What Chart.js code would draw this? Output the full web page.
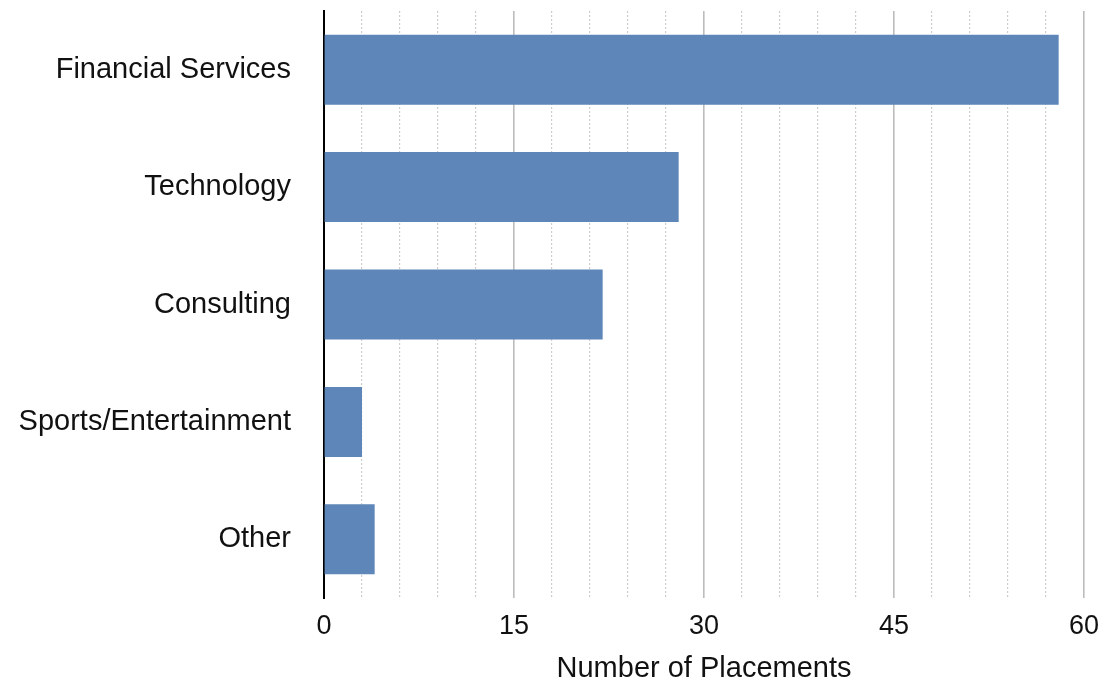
<!DOCTYPE html>
<html>
<head>
<meta charset="utf-8">
<script src="https://cdn.jsdelivr.net/npm/chart.js@4.4.0/dist/chart.umd.min.js"></script>
<style>
  html, body { margin: 0; padding: 0; background: #fff; }
  #wrap { width: 1106px; height: 688px; }
</style>
</head>
<body>
<div id="wrap"><canvas id="chart" width="1106" height="688"></canvas></div>
<script>
const categories = ['Financial Services', 'Technology', 'Consulting', 'Sports/Entertainment', 'Other'];
const placements = [58, 28, 22, 3, 4];
const xMin = 0;
const xMax = 60;
const majorStep = 15;
const minorStep = 3;

const font = "'Liberation Sans', Arial, Helvetica, sans-serif";

const ctx = document.getElementById('chart');

const chart = new Chart(ctx, {
    type: 'bar',
    data: {
        labels: categories,
        datasets: [{
            label: 'Number of Placements',
            data: placements,
            backgroundColor: 'rgb(94, 134, 185)',
            borderWidth: 0,
            barPercentage: 0.596,
            categoryPercentage: 1.0
        }]
    },
    options: {
        indexAxis: 'y',
        responsive: false,
        animation: false,
        layout: {
            padding: { top: 11, right: 22, left: 0, bottom: 0 }
        },
        plugins: {
            legend: { display: false },
            tooltip: { enabled: false }
        },
        scales: {
            xMinor: {
                type: 'linear',
                position: 'bottom',
                axis: 'x',
                min: xMin,
                max: xMax,
                weight: 2,
                ticks: { display: false, stepSize: minorStep },
                grid: {
                    drawTicks: false,
                    lineWidth: 1.2,
                    color: (c) => (c.tick && c.tick.value % majorStep === 0) ? 'rgba(0,0,0,0)' : '#cdcdcd'
                },
                border: { display: false, dash: [2, 2] },
                afterFit: (scale) => {
                    scale.height = 0;
                    scale.paddingLeft = 0;
                    scale.paddingRight = 0;
                }
            },
            x: {
                type: 'linear',
                position: 'bottom',
                min: xMin,
                max: xMax,
                weight: 1,
                ticks: {
                    stepSize: majorStep,
                    color: '#111',
                    padding: 12,
                    font: { family: font, size: 27 }
                },
                grid: {
                    drawTicks: false,
                    lineWidth: 1.6,
                    color: '#bcbcbc'
                },
                border: { display: false },
                title: {
                    display: true,
                    text: 'Number of Placements',
                    color: '#111',
                    padding: { top: 6, bottom: 2 },
                    font: { family: font, size: 29 }
                },
                afterFit: (scale) => {
                    scale.height = 90;
                    scale.paddingLeft = 0;
                    scale.paddingRight = 0;
                }
            },
            y: {
                ticks: {
                    color: '#111',
                    padding: 33,
                    font: { family: font, size: 29 }
                },
                grid: { display: false, drawTicks: false },
                border: { display: true, color: '#000', width: 2 },
                afterFit: (scale) => {
                    scale.width = 324;
                    scale.paddingTop = 0;
                    scale.paddingBottom = 0;
                }
            }
        }
    }
});
</script>
</body>
</html>
